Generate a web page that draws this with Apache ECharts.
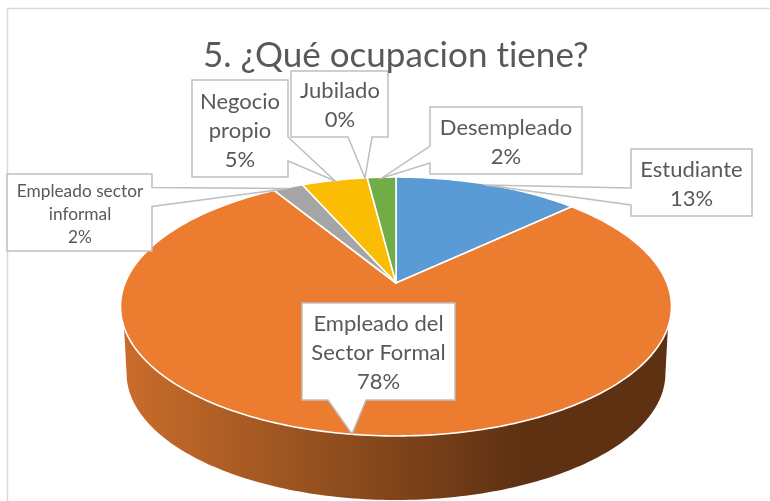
<!DOCTYPE html>
<html><head><meta charset="utf-8">
<style>html,body{margin:0;padding:0;background:#fff}#c{width:770px;height:501px}</style>
<script src="https://cdn.jsdelivr.net/npm/echarts@6/dist/echarts.min.js"></script>
</head><body><div id="c"></div>
<script>
const titleText = '5. ¿Qué ocupacion tiene?';
const categories = ['Estudiante','Empleado del\nSector Formal','Empleado sector\ninformal','Negocio\npropio','Jubilado','Desempleado'];
const values = [13,78.3,2.1,4.6,0,2];
const colors = ['#5B9BD5','#EB7C30','#A5A5A5','#FBBC04','#70AD47','#70AD47'];
// callout layout: box [x0,y0,x1,y1], pointer [side, a, b, tipX, tipY], text centre, font size, line height
const callouts = [
 {box:[631,149,752,216],ptr:['left',188,205,485,185],tx:691.5,ty:184.5,fs:22,lh:29},
 {box:[302,303,455,400],ptr:['bottom',328,366,352,434],tx:378.5,ty:352.5,fs:22,lh:29},
 {box:[7,174,152,251],ptr:['right',187.5,206.5,288,188.5],tx:80,ty:214,fs:17.3,lh:23},
 {box:[192,80,288,177],ptr:['right',137,161,335,181],tx:240,ty:131,fs:22,lh:29},
 {box:[291,71,388,137],ptr:['bottom',348,372,365,178],tx:340,ty:105.5,fs:22,lh:29},
 {box:[430,107,582,174],ptr:['left',146,163,382,178],tx:506,ty:142.5,fs:22,lh:29}
];
const total = values.reduce((a,b)=>a+b,0);
const P = {cx:396,cy:283,a:270.9,b:125.2,k:0.1815};
function rim(deg,s,dy){
  const t=deg*Math.PI/180,u=Math.sin(t),v=-Math.cos(t),d=1-P.k*v;
  return [P.cx+s*P.a*u/d,P.cy+dy+s*P.b*v/d];
}
function arc(a0,a1,s,dy){
  const n=Math.max(2,Math.ceil(Math.abs(a1-a0)/1)),out=[];
  for(let i=0;i<=n;i++)out.push(rim(a0+(a1-a0)*i/n,s,dy));
  return out;
}
const upperVis=[109.3,250.7],lowerVis=[100.5,259.5];
const sideFill={type:'linear',x:120,y:0,x2:520,y2:0,global:true,colorStops:[
 {offset:0,color:'#CB6D2B'},{offset:0.5,color:'#94501F'},{offset:1,color:'#5E3113'}]};

function renderSlice(params,api){
  const i=api.value(0),val=values[i];
  let cum=0;for(let j=0;j<i;j++)cum+=values[j];
  const a0=cum/total*360,a1=(cum+val)/total*360,children=[];
  const ua0=Math.max(a0,upperVis[0]),ua1=Math.min(a1,upperVis[1]);
  const la0=Math.max(a0,lowerVis[0]),la1=Math.min(a1,lowerVis[1]);
  if(ua1>ua0&&la1>la0){
    children.push({type:'polygon',z2:1,shape:{points:arc(ua0,ua1,1,0).concat(arc(la1,la0,0.978,67.4))},
      style:{fill:sideFill,stroke:null}});
  }
  if(val>0){
    children.push({type:'polygon',z2:2,shape:{points:[[P.cx,P.cy]].concat(arc(a0,a1,1,0))},
      style:{fill:colors[i],stroke:'#fff',lineWidth:1.6,lineJoin:'round'}});
  }
  return {type:'group',children};
}
function renderCallout(params,api){
  const i=api.value(0),c=callouts[i],[x0,y0,x1,y1]=c.box,[side,p,q,tx,ty]=c.ptr;
  let pts;
  if(side==='left')pts=[[x0,y0],[x1,y0],[x1,y1],[x0,y1],[x0,q],[tx,ty],[x0,p]];
  else if(side==='right')pts=[[x0,y0],[x1,y0],[x1,p],[tx,ty],[x1,q],[x1,y1],[x0,y1]];
  else pts=[[x0,y0],[x1,y0],[x1,y1],[q,y1],[tx,ty],[p,y1],[x0,y1]];
  const pct=Math.round(values[i]/total*100)+'%';
  return {type:'group',children:[
    {type:'polygon',shape:{points:pts},style:{fill:'#fff',stroke:'#BFBFBF',lineWidth:1.5,lineJoin:'miter'}},
    {type:'text',z2:5,style:{x:c.tx,y:c.ty,text:categories[i]+'\n'+pct,align:'center',verticalAlign:'middle',
      font:c.fs+'px Lato',fill:'#595959',lineHeight:c.lh}}
  ]};
}
const idx=values.map((v,i)=>[i]);
const dom=document.getElementById('c');
const chart=echarts.init(dom,null,{renderer:'canvas'});
const option={
  animation:false,backgroundColor:'#fff',
  title:{text:titleText,left:198,top:33,itemGap:0,
    textStyle:{fontFamily:'Lato',fontWeight:400,fontSize:35,color:'#595959'}},
  graphic:[{type:'polyline',z:-1,shape:{points:[[7.5,505],[7.5,8.5],[775,8.5]]},style:{stroke:'#D9D9D9',lineWidth:1.5,fill:null}}],
  series:[
    {type:'custom',coordinateSystem:'none',z:2,silent:true,renderItem:renderSlice,data:idx},
    {type:'custom',coordinateSystem:'none',z:3,silent:true,renderItem:renderCallout,data:idx}
  ]
};
chart.setOption(option);
// Lato's "ti" ligature is absent from the reference: turn ligatures off, then paint again
const cv=dom.querySelector('canvas');
if(cv){cv.getContext('2d').letterSpacing='0.01px';chart.setOption(option,true);}
</script></body></html>
